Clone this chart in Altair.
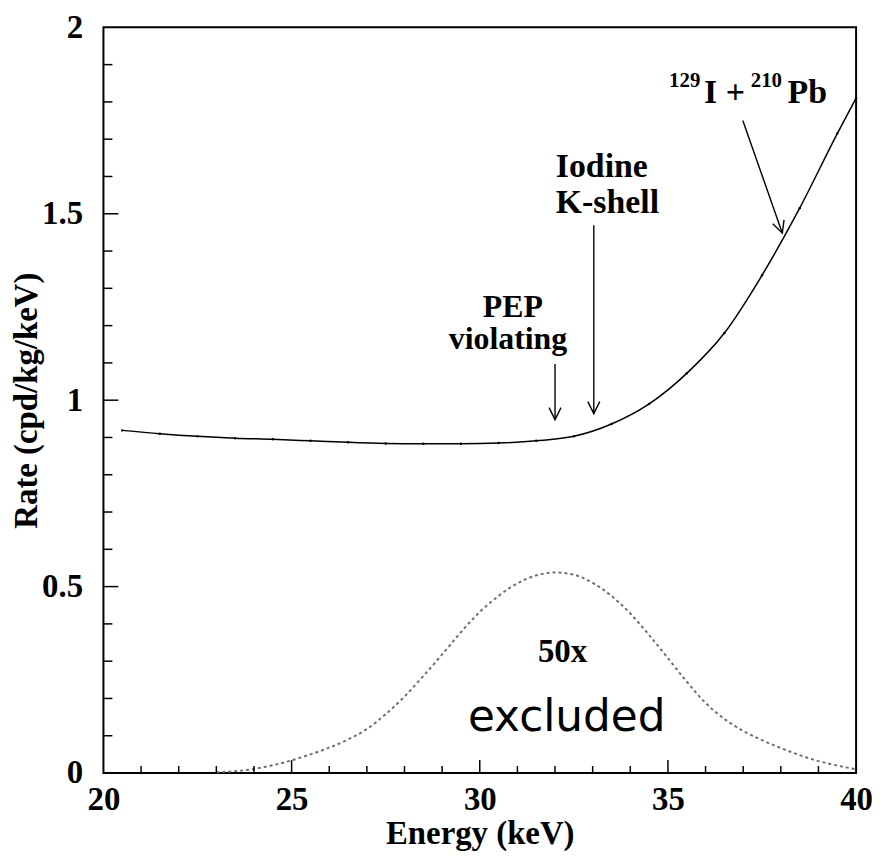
import altair as alt
import pandas as pd

# ---------------- data ----------------
energy_bg = [20.5, 21.5, 22.5, 23.5, 24.5, 25.5, 26.5, 27.5, 28.5, 29.5,
             30.5, 31.5, 32.5, 33.5, 34.5, 35.5, 36.5, 37.5, 38.5, 39.5, 40.0]
rate_bg = [0.919, 0.910, 0.903, 0.898, 0.895, 0.891, 0.887, 0.884, 0.883, 0.883,
           0.885, 0.891, 0.903, 0.936, 0.990, 1.072, 1.180, 1.335, 1.515, 1.715, 1.810]

energy_sig = [23.0, 23.5, 24.0, 24.5, 25.0, 25.5, 26.0, 26.5, 27.0, 27.5, 28.0,
              28.5, 29.0, 29.5, 30.0, 30.5, 31.0, 31.5, 32.0, 32.5, 33.0, 33.5,
              34.0, 34.5, 35.0, 35.5, 36.0, 36.5, 37.0, 37.5, 38.0, 38.5, 39.0,
              39.5, 40.0]
rate_sig = [0.002, 0.005, 0.011, 0.021, 0.034, 0.050, 0.068, 0.090, 0.118, 0.158,
            0.205, 0.260, 0.318, 0.378, 0.432, 0.475, 0.509, 0.530, 0.538, 0.532,
            0.510, 0.475, 0.428, 0.370, 0.308, 0.245, 0.188, 0.145, 0.113, 0.088,
            0.067, 0.048, 0.032, 0.020, 0.010]

x_labels = [20, 25, 30, 35, 40]
y_labels = [0, 0.5, 1, 1.5, 2]
x_major = [25, 30, 35]
x_minor = [21, 22, 23, 24, 26, 27, 28, 29, 31, 32, 33, 34, 36, 37, 38, 39]
y_major = [0.5, 1.0, 1.5]
y_minor = [0.1, 0.2, 0.3, 0.4, 0.6, 0.7, 0.8, 0.9, 1.1, 1.2, 1.3, 1.4,
           1.6, 1.7, 1.8, 1.9]

# arrows (tail -> head) in data coordinates
arrow_x1 = [32.0, 33.03, 36.99]
arrow_y1 = [1.097, 1.469, 1.75]
arrow_x2 = [32.0, 33.03, 38.04]
arrow_y2 = [0.948, 0.964, 1.448]

# annotation texts
note_center_text = ["PEP", "violating"]
note_center_x = [30.88, 30.75]
note_center_y = [1.222, 1.137]

note_left_text = ["Iodine", "K-shell"]
note_left_x = [32.02, 32.02]
note_left_y = [1.599, 1.5007]

iso_big_text = ["I +", "Pb"]
iso_big_x = [35.96, 38.18]
iso_big_y = [1.798, 1.798]
iso_sup_text = ["129", "210"]
iso_sup_x = [35.03, 37.2]
iso_sup_y = [1.84, 1.84]

label_50x = ["50x"]
label_50x_x = [32.2]
label_50x_y = [0.2975]

label_excl = ["excluded"]
label_excl_x = [32.31]
label_excl_y = [0.114]

# ---------------- chart ----------------
SERIF = "Liberation Serif"
xs = alt.Scale(domain=[20, 40], nice=False)
ys = alt.Scale(domain=[0, 2], nice=False)

PLOT_H = 750

xaxis = alt.Axis(values=x_labels, ticks=False, tickSize=0, domain=False, grid=False,
                 labelFont=SERIF, labelFontWeight="bold", labelFontSize=33,
                 labelColor="black", labelPadding=11, labelFlush=False,
                 title="Energy (keV)", titleFont=SERIF, titleFontSize=33,
                 titleFontWeight="bold", titleColor="black", titlePadding=1)
yaxis = alt.Axis(values=y_labels, format="~g", ticks=False, tickSize=0, domain=False,
                 grid=False, labelFont=SERIF, labelFontWeight="bold", labelFontSize=33,
                 labelColor="black", labelPadding=21, labelFlush=False,
                 title="Rate (cpd/kg/keV)", titleFont=SERIF, titleFontSize=33,
                 titleFontWeight="bold", titleColor="black", titlePadding=-2)


def X(f):
    return alt.X(f, type="quantitative", scale=xs, axis=xaxis)


def Y(f):
    return alt.Y(f, type="quantitative", scale=ys, axis=yaxis)


bg = pd.DataFrame({"e": energy_bg, "r": rate_bg})
sig = pd.DataFrame({"e": energy_sig, "r": rate_sig})

solid = alt.Chart(bg).mark_line(color="black", strokeWidth=1.5, interpolate="monotone").encode(
    x=X("e"), y=Y("r"))
dots = alt.Chart(bg).mark_point(filled=True, size=6, color="black", opacity=1).encode(
    x=X("e"), y=Y("r"))
dashed = alt.Chart(sig).mark_line(color="#6f6f6f", strokeWidth=2, strokeDash=[3, 3],
                                  interpolate="monotone").encode(x=X("e"), y=Y("r"))

xmaj = alt.Chart(pd.DataFrame({"v": x_major})).mark_rule(color="black", strokeWidth=1.5).encode(
    x=X("v"), y=alt.value(PLOT_H), y2=alt.value(PLOT_H - 13))
xmin = alt.Chart(pd.DataFrame({"v": x_minor})).mark_rule(color="black", strokeWidth=1.5).encode(
    x=X("v"), y=alt.value(PLOT_H), y2=alt.value(PLOT_H - 7))
ymaj = alt.Chart(pd.DataFrame({"v": y_major})).mark_rule(color="black", strokeWidth=1.5).encode(
    y=Y("v"), x=alt.value(0), x2=alt.value(15))
ymin = alt.Chart(pd.DataFrame({"v": y_minor})).mark_rule(color="black", strokeWidth=1.5).encode(
    y=Y("v"), x=alt.value(0), x2=alt.value(9))

arrows = pd.DataFrame({"x1": arrow_x1, "y1": arrow_y1, "x2": arrow_x2, "y2": arrow_y2})
arrow_lines = alt.Chart(arrows).mark_rule(color="black", strokeWidth=1.4).encode(
    x=X("x1"), y=Y("y1"), x2="x2:Q", y2="y2:Q")
HEAD = "M-0.5,-1L0,0L0.5,-1"
heads_v = alt.Chart(arrows).transform_filter("datum.x1 == datum.x2").mark_point(
    shape=HEAD, size=576, filled=False, color="black", strokeWidth=1.4, opacity=1).encode(
    x=X("x2"), y=Y("y2"))
heads_d = alt.Chart(arrows).transform_filter("datum.x1 != datum.x2").mark_point(
    shape=HEAD, size=576, filled=False, color="black", strokeWidth=1.4, opacity=1,
    angle=340.75).encode(x=X("x2"), y=Y("y2"))


def texts(t, x, y, **kw):
    df = pd.DataFrame({"t": t, "x": x, "y": y})
    return alt.Chart(df).mark_text(color="black", baseline="alphabetic", **kw).encode(
        x=X("x"), y=Y("y"), text="t:N")


t_center = texts(note_center_text, note_center_x, note_center_y, align="center",
                 font=SERIF, fontWeight="bold", fontSize=32)
t_left = texts(note_left_text, note_left_x, note_left_y, align="left",
               font=SERIF, fontWeight="bold", fontSize=34)
t_iso = texts(iso_big_text, iso_big_x, iso_big_y, align="left",
              font=SERIF, fontWeight="bold", fontSize=34)
t_sup = texts(iso_sup_text, iso_sup_x, iso_sup_y, align="left",
              font=SERIF, fontWeight="bold", fontSize=21)
t_50x = texts(label_50x, label_50x_x, label_50x_y, align="center",
              font=SERIF, fontWeight="bold", fontSize=33)
t_excl = texts(label_excl, label_excl_x, label_excl_y, align="center",
               font="DejaVu Sans", fontWeight="normal", fontSize=44)

chart = alt.layer(
    solid, dots, dashed, xmaj, xmin, ymaj, ymin, arrow_lines, heads_v, heads_d,
    t_center, t_left, t_iso, t_sup, t_50x, t_excl
).properties(
    width=757, height=PLOT_H,
    autosize=alt.AutoSizeParams(type="none"),
    padding={"left": 96, "top": 17, "right": 16, "bottom": 80},
    background="white",
).configure_view(stroke="black", strokeWidth=2)

chart.save("out.html", embed_options={"renderer": "svg", "actions": False})
